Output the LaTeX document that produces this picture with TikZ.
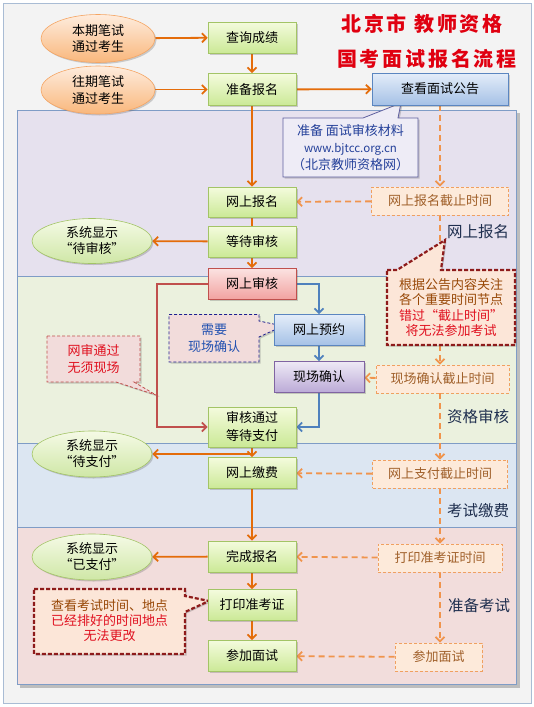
\documentclass[tikz,border=0pt]{standalone}
\usepackage{fontspec}
\setmainfont{Noto Sans CJK SC}
\newfontfamily\titlefont[LetterSpace=14]{Noto Sans CJK SC}
\usetikzlibrary{arrows.meta,shadows,shapes.geometric}
\pgfdeclarelayer{back}
\pgfdeclarelayer{mid}
\pgfsetlayers{back,mid,main}
\definecolor{outerbg}{HTML}{F3F3F3}
\definecolor{outerline}{HTML}{A9BCD4}
\definecolor{bandline}{HTML}{7F9CC6}
\definecolor{bandA}{HTML}{E6E1EE}
\definecolor{bandB}{HTML}{EBF1DE}
\definecolor{bandC}{HTML}{DCE6F2}
\definecolor{bandD}{HTML}{F2DDDC}
\definecolor{gtop}{HTML}{F4FBDD}
\definecolor{gbot}{HTML}{CBE996}
\definecolor{gline}{HTML}{A3C466}
\definecolor{btop}{HTML}{E4EDF9}
\definecolor{bbot}{HTML}{A5C1E6}
\definecolor{bline}{HTML}{5B86C0}
\definecolor{rtop}{HTML}{FBE2E1}
\definecolor{rbot}{HTML}{F2A2A0}
\definecolor{rline}{HTML}{C0504D}
\definecolor{ptop}{HTML}{EEE9F5}
\definecolor{pbot}{HTML}{BBAAD6}
\definecolor{pline}{HTML}{8064A2}
\definecolor{otop}{HTML}{FEECDD}
\definecolor{obot}{HTML}{F9B77C}
\definecolor{oline}{HTML}{F5A563}
\definecolor{getop}{HTML}{F5FAE6}
\definecolor{gebot}{HTML}{CFE7A6}
\definecolor{dfill}{HTML}{FDEADA}
\definecolor{dline}{HTML}{F0A060}
\definecolor{dtext}{HTML}{A0602A}
\definecolor{labc}{HTML}{1F2F4F}
\definecolor{arrc}{HTML}{E46C0A}
\definecolor{darrc}{HTML}{F0944D}
\definecolor{redln}{HTML}{C0504D}
\definecolor{blueln}{HTML}{4F81BD}
\definecolor{titlered}{HTML}{E00010}
\definecolor{calfill}{HTML}{FCE6D8}
\definecolor{calline}{HTML}{8E1B1B}
\definecolor{calbrown}{HTML}{984807}
\definecolor{calred}{HTML}{E0101F}
\definecolor{pinkfill}{HTML}{F2DCDB}
\definecolor{navyln}{HTML}{1F1F8F}
\definecolor{lavfill}{HTML}{EEECF6}
\definecolor{lavline}{HTML}{5F5F9F}
\definecolor{lavtext}{HTML}{24409A}
\definecolor{bluetext}{HTML}{2050B0}
\newcommand\fsA{\fontsize{13}{17}\selectfont}
\begin{document}
\begin{tikzpicture}[x=1pt,y=-1pt,
  every node/.style={font=\fsA, align=center},
  shd/.style={drop shadow={shadow xshift=1.5pt, shadow yshift=-1.5pt, opacity=0.3, fill=black!60}},
  gbox/.style={rectangle, draw=gline, line width=0.6pt, top color=gtop, bottom color=gbot, minimum width=88pt, minimum height=31pt, inner sep=0pt, shd},
  bbox/.style={gbox, draw=bline, top color=btop, bottom color=bbot},
  rbox/.style={gbox, draw=rline, top color=rtop, bottom color=rbot},
  pbox/.style={gbox, draw=pline, top color=ptop, bottom color=pbot},
  oell/.style={ellipse, draw=oline, line width=0.6pt, top color=otop, bottom color=obot, minimum width=114pt, minimum height=48pt, inner sep=0pt, shd},
  gell/.style={oell, draw=gline, top color=getop, bottom color=gebot, minimum width=120pt, minimum height=45pt, font=\fontsize{13}{16}\selectfont},
  dbox/.style={rectangle, draw=dline, dash pattern=on 3pt off 2pt, line width=0.7pt, fill=dfill, text=dtext, minimum height=28pt, inner sep=0pt},
  lab/.style={text=labc, font=\fontsize{15.5}{18}\selectfont},
  arr/.style={draw=arrc, line width=1.8pt, -{Straight Barb[length=4.5pt,width=9pt]}},
  darr/.style={arr, draw=darrc, dash pattern=on 6pt off 4pt},
  ln/.style={draw=arrc, line width=1.8pt},
  redarr/.style={arr, draw=redln},
  bluearr/.style={arr, draw=blueln},
  calA/.style={fill=calfill, draw=calline, line width=2.2pt, dash pattern=on 4pt off 2pt, shd},
  calB/.style={fill=pinkfill, draw=navyln, line width=0.8pt, dash pattern=on 3pt off 2pt, shd},
  calC/.style={fill=pinkfill, draw=redln, line width=0.8pt, dash pattern=on 3pt off 2pt, shd},
  calD/.style={fill=lavfill, draw=lavline, line width=0.8pt, shd},
  ctext/.style={inner sep=0pt}
]
\useasboundingbox (0,0) rectangle (534,707);
\begin{pgfonlayer}{back}
\filldraw[fill=outerbg, draw=outerline, line width=1pt] (3,3) rectangle (531,703);
\fill[black, opacity=0.22] (20,113) rectangle (519.5,687.5);
\filldraw[fill=bandA, draw=bandline, line width=0.8pt] (17,110) rectangle (516,276);
\filldraw[fill=bandB, draw=bandline, line width=0.8pt] (17,276) rectangle (516,443);
\filldraw[fill=bandC, draw=bandline, line width=0.8pt] (17,443) rectangle (516,527);
\filldraw[fill=bandD, draw=bandline, line width=0.8pt] (17,527) rectangle (516,684);
\end{pgfonlayer}

% title
\node[text=titlered, font=\titlefont\bfseries\fontsize{20}{22}\selectfont] (t1) at (422,24) {北京市 教师资格};
\node[text=titlered, font=\titlefont\bfseries\fontsize{20}{22}\selectfont] (t2) at (427,58.5) {国考面试报名流程};

% nodes
\node[oell, font=\fontsize{13}{16.5}\selectfont] (e1) at (98,38.5) {本期笔试\\通过考生};
\node[gbox] (b1) at (252,37.5) {查询成绩};
\node[oell, font=\fontsize{13}{16.5}\selectfont] (e2) at (98,90) {往期笔试\\通过考生};
\node[gbox, minimum height=32pt] (b2) at (252,89.5) {准备报名};
\node[bbox, minimum width=136pt, minimum height=32pt] (notice) at (440,89) {查看面试公告};
\node[ctext, text=lavtext] (c1) at (350.5,147.5) {准备 面试审核材料\\{\fontsize{11.5}{17}\selectfont www.bjtcc.org.cn}\\（北京教师资格网）};
\node[gbox, minimum height=30pt] (reg) at (252,202) {网上报名};
\node[dbox, minimum width=137pt] (d1) at (440,201) {网上报名截止时间};
\node[gbox] (wait) at (252,241.5) {等待审核};
\node[gell] (ew) at (92,241) {系统显示\\“待审核”};
\node[lab] (l1) at (478,232) {网上报名};
\node[rbox] (audit) at (252,284) {网上审核};
\node[ctext] (c2) at (451,307.5) {\textcolor{calbrown}{根据公告内容关注}\\[-1.5pt]\textcolor{calbrown}{各个重要时间节点}\\[-1.5pt]\textcolor{calred}{错过“截止时间”}\\[-1.5pt]\textcolor{calred}{将无法参加考试}};
\node[bbox, minimum width=90pt] (appt) at (319,330) {网上预约};
\node[ctext, text=bluetext] (c3) at (214,338) {需要\\现场确认};
\node[pbox, minimum width=90pt] (conf) at (319,377) {现场确认};
\node[dbox, minimum width=133pt] (d2) at (442.5,379) {现场确认截止时间};
\node[ctext, text=calred, font=\fontsize{13}{16.5}\selectfont] (c4) at (93.5,359) {网审通过\\无须现场};
\node[gbox, minimum height=40pt, font=\fontsize{13}{18}\selectfont] (pass) at (252,427) {审核通过\\等待支付};
\node[lab] (l2) at (478,417) {资格审核};
\node[gell, minimum height=46pt] (ep) at (92,454) {系统显示\\“待支付”};
\node[gbox] (pay) at (252,473) {网上缴费};
\node[dbox, minimum width=135pt] (d3) at (440,474) {网上支付截止时间};
\node[lab] (l3) at (478,511) {考试缴费};
\node[gbox] (done) at (252,556.5) {完成报名};
\node[gell, minimum height=46pt] (ed) at (92,557) {系统显示\\“已支付”};
\node[dbox, minimum width=124pt] (d4) at (440,558) {打印准考证时间};
\node[gbox] (prt) at (252,605) {打印准考证};
\node[ctext, font=\fontsize{13}{15}\selectfont] (c5) at (109.5,620.5) {\textcolor{calbrown}{查看考试时间、地点}\\\textcolor{calred}{已经排好的时间地点}\\\textcolor{calred}{无法更改}};
\node[lab] (l4) at (479,606) {准备考试};
\node[gbox] (att) at (252,656) {参加面试};
\node[dbox, minimum width=87pt] (d5) at (438.5,657) {参加面试};

\coordinate (rl) at (157,284);
\coordinate (br) at (252,454);

\begin{pgfonlayer}{mid}
% connectors
\draw[arr] (e1) -- (b1);
\draw[arr] (b1) -- (b2);
\draw[arr] (e2.east |- b2.west) -- (b2.west);
\draw[arr] (b2) -- (notice);
\draw[arr] (b2) -- (reg);
\draw[darr] (notice.south) -- (notice.south |- d1.north);
\draw[darr] (d1) -- (reg);
\draw[ln] (reg) -- (wait);
\draw[arr] (wait) -- (ew);
\draw[arr] (wait) -- (audit);
\draw[darr] (d1.south) -- (d1.south |- d2.north);
\draw[redarr] (audit.west) -- (rl) |- (pass.west);
\draw[bluearr] (audit.east) -| (appt.north);
\draw[bluearr] (appt) -- (conf);
\draw[bluearr] (conf.south) |- (pass.east);
\draw[darr] (d2) -- (conf);
\draw[arr] (pass) -- (pay);
\draw[arr] (br) -- (ep.east);
\draw[darr] (d1.south |- d2.south) -- (d1.south |- d3.north);
\draw[darr] (d3) -- (pay);
\draw[arr] (pay) -- (done);
\draw[darr] (d3.south) -- (d4.north);
\draw[arr] (done) -- (ed);
\draw[darr] (d4) -- (done);
\draw[arr] (done) -- (prt);
\draw[arr] (prt) -- (att);
\draw[darr] (d4.south) -- (d4.south |- d5.north);
\draw[darr] (d5) -- (att);
% callout outlines
\draw[calD] (283,118) -- (363,118) -- (401,103) -- (398,118) -- (418,118) -- (418,177) -- (283,177) -- cycle;
\draw[calA] (387,270) -- (397,270) -- (445,240) -- (441,270) -- (515,270) -- (515,345) -- (387,345) -- cycle;
\draw[calB] (169,314.5) -- (259,314.5) -- (259,321) -- (283,326) -- (259,337) -- (259,362) -- (169,362) -- cycle;
\draw[calC] (47,336) -- (140,336) -- (140,382) -- (134,382) -- (156,395) -- (116,382) -- (47,382) -- cycle;
\draw[calA] (34,589) -- (185,589) -- (185,596) -- (209,601) -- (185,612) -- (185,654) -- (34,654) -- cycle;
\end{pgfonlayer}
\end{tikzpicture}
\end{document}
